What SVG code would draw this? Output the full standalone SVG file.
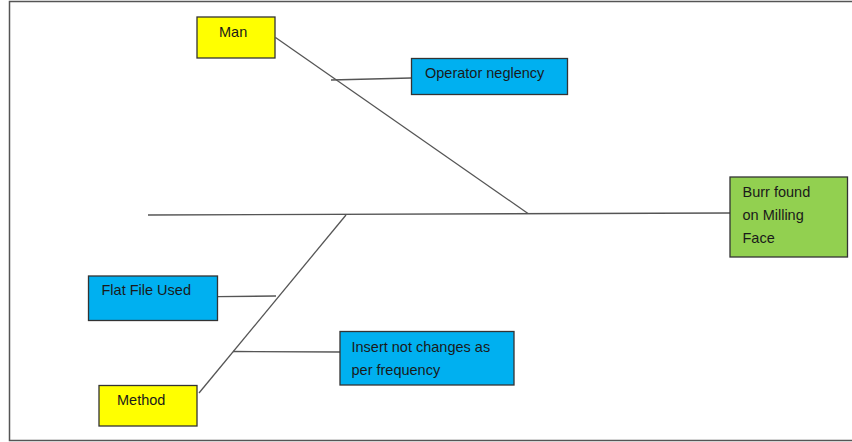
<svg xmlns="http://www.w3.org/2000/svg" width="852" height="442" viewBox="0 0 852 442">
<style>
.box{stroke:#333;stroke-width:1.3}
.y{fill:#ffff00}.b{fill:#00b0f0}.g{fill:#92d050}
text{font-family:"Liberation Sans",Arial,sans-serif;font-size:14.5px;fill:#1a1a1a}
.ln{stroke:#555;stroke-width:1.3;fill:none}
</style>
<rect width="852" height="442" fill="#fff"/>
<path d="M852,1.5 H9.5 V440.5 H852" fill="none" stroke="#555" stroke-width="1.5"/>
<g id="connectors">
<line class="ln" x1="148" y1="215" x2="730" y2="213"/>
<line class="ln" x1="275.5" y1="37.5" x2="528" y2="213.5"/>
<line class="ln" x1="331" y1="80" x2="411" y2="78"/>
<line class="ln" x1="346" y1="215" x2="199" y2="393"/>
<line class="ln" x1="218" y1="296.7" x2="276" y2="296"/>
<line class="ln" x1="233" y1="351.5" x2="340" y2="352"/>
</g>
<g id="man"><rect class="box y" x="197" y="17" width="78" height="41"/><text x="219" y="37">Man</text></g>
<g id="operator"><rect class="box b" x="411.5" y="58.5" width="156" height="36"/><text x="425" y="78">Operator neglency</text></g>
<g id="burr"><rect class="box g" x="730" y="177" width="117.5" height="80"/><text x="742.5" y="197">Burr found</text><text x="742.5" y="220">on Milling</text><text x="742.5" y="243">Face</text></g>
<g id="flatfile"><rect class="box b" x="88.5" y="276" width="129" height="44.5"/><text x="101.5" y="295">Flat File Used</text></g>
<g id="insert"><rect class="box b" x="340" y="331.5" width="174" height="53.5"/><text x="351.5" y="352">Insert not changes as</text><text x="351.5" y="375">per frequency</text></g>
<g id="method"><rect class="box y" x="99" y="385.5" width="98" height="40.5"/><text x="117" y="405">Method</text></g>
</svg>
